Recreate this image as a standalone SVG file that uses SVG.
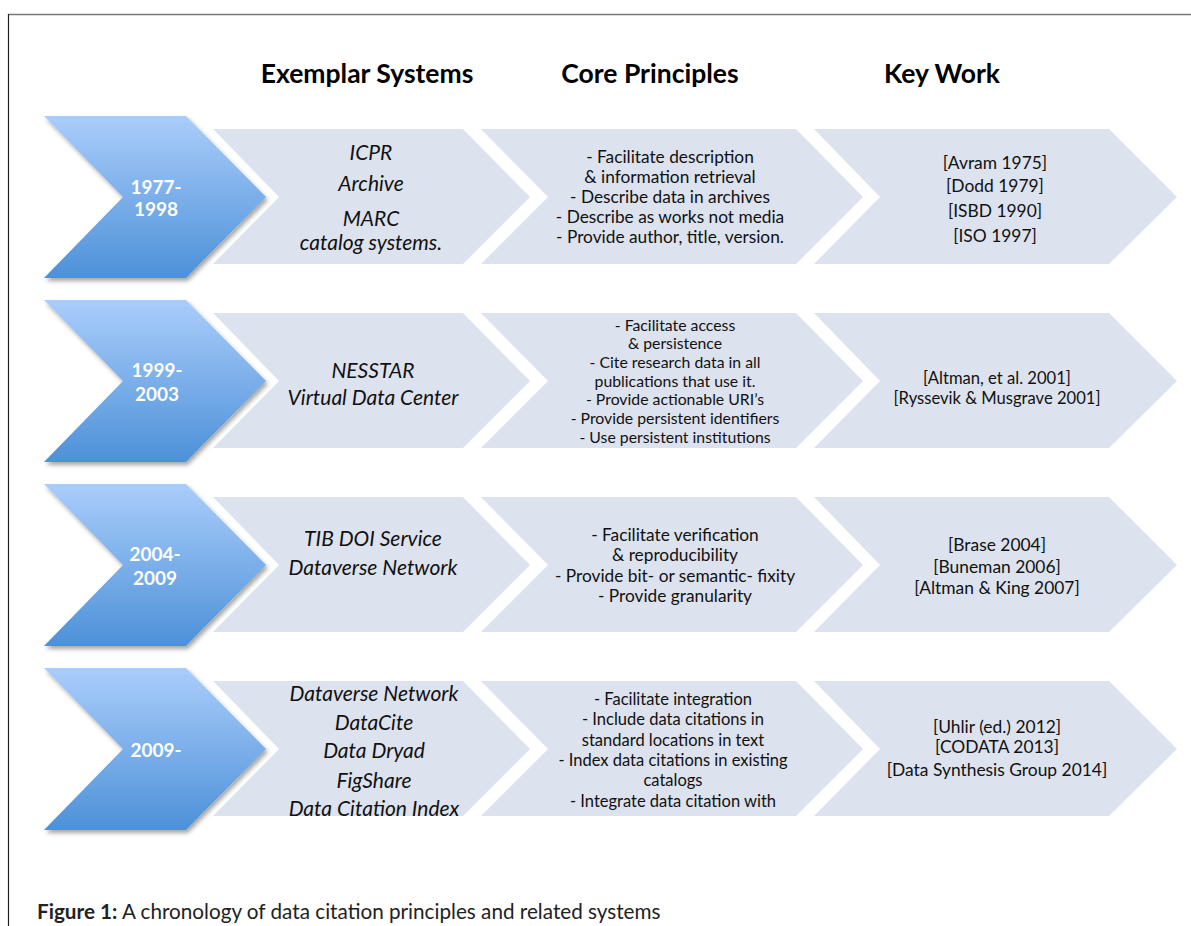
<svg xmlns="http://www.w3.org/2000/svg" width="1191" height="926" viewBox="0 0 1191 926">
  <defs>
    <linearGradient id="blueGrad" x1="0" y1="0" x2="0" y2="1">
      <stop offset="0" stop-color="#AACDFB"/>
      <stop offset="1" stop-color="#4D91D8"/>
    </linearGradient>
    <filter id="shadow" x="-10%" y="-10%" width="125%" height="130%">
      <feDropShadow dx="2" dy="3" stdDeviation="2" flood-color="#000" flood-opacity="0.35"/>
    </filter>
    <!-- chevron shapes, centred on y=0 -->
    <polygon id="yearChevron" points="44,-81 186,-81 266,0 186,81 44,81 123,0"/>
    <polygon id="c1" points="213,-68 463,-68 530,0 463,67 213,67 279,0"/>
    <polygon id="c2" points="481,-68 796,-68 863,0 796,67 481,67 548,0"/>
    <polygon id="c3" points="814,-68 1109,-68 1177,0 1109,67 814,67 880,0"/>
  </defs>
  <style>
    .year { fill: url(#blueGrad); filter: url(#shadow); }
    .box { fill: #DCE2EE; }
    .head { font-family: Lato, "Liberation Sans", sans-serif; font-weight: bold; font-size: 26.5px; fill: #000; text-anchor: middle; }
    .yr { font-family: Lato, "Liberation Sans", sans-serif; font-weight: bold; font-size: 19px; fill: #fff; text-anchor: middle; }
    .sys { font-family: Lato, "Liberation Sans", sans-serif; font-style: italic; font-size: 21px; fill: #111; text-anchor: middle; }
    .txt { font-family: Lato, "Liberation Sans", sans-serif; font-size: 17.3px; fill: #111; text-anchor: middle; }
    .key { font-family: Lato, "Liberation Sans", sans-serif; font-size: 17.4px; fill: #111; text-anchor: middle; }
    .r2 { font-size: 15.8px; }
    .r3 { font-size: 17.3px; }
    .r4 { font-size: 16.5px; }
    .k2 { font-size: 16.6px; }
    .cap { font-family: Lato, "Liberation Sans", sans-serif; font-size: 20.7px; fill: #222; }
  </style>

  <rect width="1191" height="926" fill="#fff"/>

  <!-- frame -->
  <line x1="8" y1="14.5" x2="1191" y2="14.5" stroke="#777" stroke-width="1.6"/>
  <line x1="8.5" y1="14" x2="8.5" y2="926" stroke="#222" stroke-width="1.2"/>

  <!-- column headings -->
  <g id="headings">
    <text class="head" x="367" y="83">Exemplar Systems</text>
    <text class="head" x="650" y="83">Core Principles</text>
    <text class="head" x="942" y="83">Key Work</text>
  </g>

  <!-- connectors: none, the chevrons carry the flow -->
  <g id="connectors"/>

  <!-- row 1: 1977-1998 -->
  <g id="row1" transform="translate(0,197)">
    <g id="year1977">
      <use href="#yearChevron" class="year"/>
      <text class="yr" x="156" y="-3">1977-</text>
      <text class="yr" x="156" y="19">1998</text>
    </g>
    <g id="systems1977">
      <use href="#c1" class="box"/>
      <text class="sys" x="371" y="-37">ICPR</text>
      <text class="sys" x="371" y="-6">Archive</text>
      <text class="sys" x="371" y="29">MARC</text>
      <text class="sys" x="371" y="53">catalog systems.</text>
    </g>
    <g id="principles1977">
      <use href="#c2" class="box"/>
      <text class="txt" x="670" y="-34">- Facilitate description</text>
      <text class="txt" x="670" y="-14">&amp; information retrieval</text>
      <text class="txt" x="670" y="6">- Describe data in archives</text>
      <text class="txt" x="670" y="26">- Describe as works not media</text>
      <text class="txt" x="670" y="46">- Provide author, title, version.</text>
    </g>
    <g id="work1977">
      <use href="#c3" class="box"/>
      <text class="key" x="995" y="-28">[Avram 1975]</text>
      <text class="key" x="995" y="-5">[Dodd 1979]</text>
      <text class="key" x="995" y="20">[ISBD 1990]</text>
      <text class="key" x="995" y="45">[ISO 1997]</text>
    </g>
  </g>

  <!-- row 2: 1999-2003 -->
  <g id="row2" transform="translate(0,381)">
    <g id="year1999">
      <use href="#yearChevron" class="year"/>
      <text class="yr" x="157" y="-4">1999-</text>
      <text class="yr" x="157" y="20">2003</text>
    </g>
    <g id="systems1999">
      <use href="#c1" class="box"/>
      <text class="sys" x="373" y="-3">NESSTAR</text>
      <text class="sys" x="373" y="24">Virtual Data Center</text>
    </g>
    <g id="principles1999">
      <use href="#c2" class="box"/>
      <text class="txt r2" x="675" y="-50">- Facilitate access</text>
      <text class="txt r2" x="675" y="-32">&amp; persistence</text>
      <text class="txt r2" x="675" y="-13">- Cite research data in all</text>
      <text class="txt r2" x="675" y="6">publications that use it.</text>
      <text class="txt r2" x="675" y="24">- Provide actionable URI’s</text>
      <text class="txt r2" x="675" y="43">- Provide persistent identifiers</text>
      <text class="txt r2" x="675" y="62">- Use persistent institutions</text>
    </g>
    <g id="work1999">
      <use href="#c3" class="box"/>
      <text class="key k2" x="997" y="3">[Altman, et al. 2001]</text>
      <text class="key k2" x="997" y="23">[Ryssevik &amp; Musgrave 2001]</text>
    </g>
  </g>

  <!-- row 3: 2004-2009 -->
  <g id="row3" transform="translate(0,565)">
    <g id="year2004">
      <use href="#yearChevron" class="year"/>
      <text class="yr" x="155" y="-4">2004-</text>
      <text class="yr" x="155" y="20">2009</text>
    </g>
    <g id="systems2004">
      <use href="#c1" class="box"/>
      <text class="sys" x="373" y="-19">TIB DOI Service</text>
      <text class="sys" x="373" y="10">Dataverse Network</text>
    </g>
    <g id="principles2004">
      <use href="#c2" class="box"/>
      <text class="txt r3" x="675" y="-24">- Facilitate verification</text>
      <text class="txt r3" x="675" y="-4">&amp; reproducibility</text>
      <text class="txt r3" x="675" y="17">- Provide bit- or semantic- fixity</text>
      <text class="txt r3" x="675" y="37">- Provide granularity</text>
    </g>
    <g id="work2004">
      <use href="#c3" class="box"/>
      <text class="key" x="997" y="-14">[Brase 2004]</text>
      <text class="key" x="997" y="8">[Buneman 2006]</text>
      <text class="key" x="997" y="29">[Altman &amp; King 2007]</text>
    </g>
  </g>

  <!-- row 4: 2009- -->
  <g id="row4" transform="translate(0,749)">
    <g id="year2009">
      <use href="#yearChevron" class="year"/>
      <text class="yr" x="156" y="8">2009-</text>
    </g>
    <g id="systems2009">
      <use href="#c1" class="box"/>
      <text class="sys" x="374" y="-48">Dataverse Network</text>
      <text class="sys" x="374" y="-19">DataCite</text>
      <text class="sys" x="374" y="9">Data Dryad</text>
      <text class="sys" x="374" y="39">FigShare</text>
      <text class="sys" x="374" y="67">Data Citation Index</text>
    </g>
    <g id="principles2009">
      <use href="#c2" class="box"/>
      <text class="txt r4" x="673" y="-44">- Facilitate integration</text>
      <text class="txt r4" x="673" y="-24">- Include data citations in</text>
      <text class="txt r4" x="673" y="-3">standard locations in text</text>
      <text class="txt r4" x="673" y="17">- Index data citations in existing</text>
      <text class="txt r4" x="673" y="37">catalogs</text>
      <text class="txt r4" x="673" y="58">- Integrate data citation with</text>
    </g>
    <g id="work2009">
      <use href="#c3" class="box"/>
      <text class="key" x="997" y="-16">[Uhlir (ed.) 2012]</text>
      <text class="key" x="997" y="4">[CODATA 2013]</text>
      <text class="key" x="997" y="27">[Data Synthesis Group 2014]</text>
    </g>
  </g>

  <!-- caption -->
  <text class="cap" x="37" y="919"><tspan font-weight="bold">Figure 1:</tspan> A chronology of data citation principles and related systems</text>
</svg>
